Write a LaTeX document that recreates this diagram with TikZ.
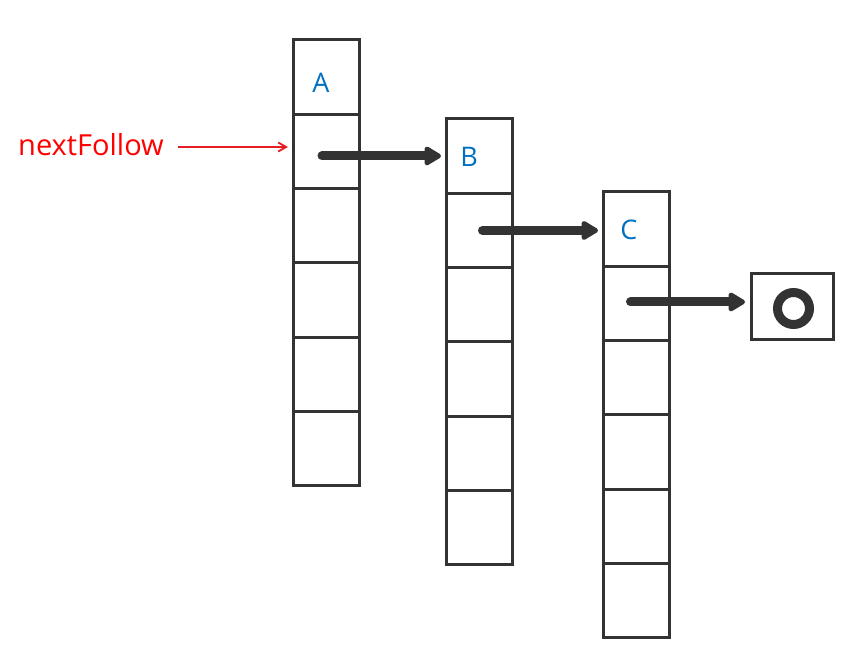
\documentclass[tikz,border=0pt]{standalone}
\usepackage{fontspec}
\setmainfont{Open Sans}
\usetikzlibrary{arrows.meta}
\definecolor{ink}{RGB}{51,51,51}
\definecolor{lbl}{RGB}{0,112,192}
\definecolor{ptr}{RGB}{230,30,36}
\tikzset{
  cell/.style={draw=ink, line width=3pt, minimum width=66pt, minimum height=74.3pt,
    inner sep=0pt, outer sep=0pt, anchor=north west},
  tag/.style={text=lbl, font=\fontsize{27}{31}\selectfont, inner sep=0pt},
  link/.style={draw=ink, line width=9pt, line cap=round, shorten >=5pt,
    -{Triangle[round, length=19pt, width=21pt]}},
  follow/.style={draw=ptr, line width=1.8pt, -{Straight Barb[length=8pt, width=9pt]}}
}
\begin{document}
\begin{tikzpicture}[x=1pt, y=-1pt]
\useasboundingbox (0,0) rectangle (855,658);
% three vertical columns of six cells each
\foreach \c/\x/\y in {A/293/40, B/446/119, C/603/192}{
  \foreach \i in {0,...,5}{
    \node[cell] (\c\i) at (\x, \y + \i*74.3) {};
  }
}
\node[tag] at ([xshift=-5pt,yshift=-6pt]A0.center) {A};
\node[tag] at ([xshift=-10pt,yshift=-1pt]B0.center) {B};
\node[tag] at ([xshift=-7pt,yshift=-1pt]C0.center) {C};
% terminal box
\node[draw=ink, line width=3pt, minimum width=82pt, minimum height=66pt, inner sep=0pt,
  anchor=north west] (nil) at (750,272) {};
\draw[ink, line width=9pt] ([xshift=1pt,yshift=-2pt]nil.center) circle[radius=16pt];
% pointer arrows between the columns
\draw[link] ([xshift=-4pt,yshift=-4.5pt]A1.center) coordinate (s1) -- (s1 -| B0.west);
\draw[link] ([xshift=3.5pt]B1.center) coordinate (s2) -- (s2 -| C0.west);
\draw[link] ([xshift=-5.5pt,yshift=1.5pt]C1.center) coordinate (s3) -- (s3 -| nil.west);
% label pointing at the second cell of A
\node[text=red, font=\fontsize{29}{33}\selectfont, anchor=west, inner sep=0pt] (nf) at (18,145) {nextFollow};
\draw[follow] ([xshift=14pt,yshift=-2pt]nf.east) coordinate (s0) -- ([xshift=-5pt]s0 -| A1.west);
\end{tikzpicture}
\end{document}
